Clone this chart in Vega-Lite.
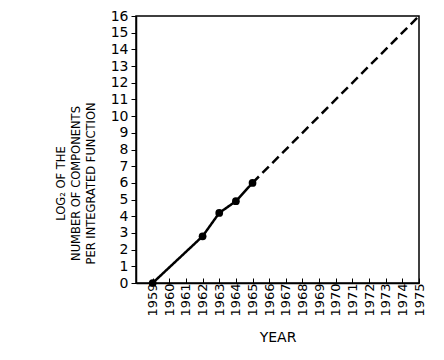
{
  "$schema": "https://vega.github.io/schema/vega-lite/v6.json",
  "autosize": "none",
  "width": 283,
  "height": 267,
  "padding": {"left": 136, "top": 16, "right": 25, "bottom": 77},
  "background": "white",
  "config": {
    "font": "DejaVu Sans",
    "view": {"stroke": "black", "strokeWidth": 1.5},
    "axis": {"grid": false, "domainColor": "black", "domainWidth": 1.5, "tickColor": "black", "labelColor": "black", "titleColor": "black", "titleFontWeight": "normal"}
  },
  "data": {
    "values": [
      {"year": 1959, "value": 0, "series": "measured"},
      {"year": 1962, "value": 2.8, "series": "measured"},
      {"year": 1963, "value": 4.2, "series": "measured"},
      {"year": 1964, "value": 4.9, "series": "measured"},
      {"year": 1965, "value": 6, "series": "measured"},
      {"year": 1965, "value": 6, "series": "projected"},
      {"year": 1975, "value": 16, "series": "projected"}
    ]
  },
  "encoding": {
    "x": {
      "field": "year", "type": "quantitative",
      "scale": {"domain": [1958, 1975], "nice": false, "zero": false},
      "axis": {
        "title": "YEAR", "titleFontSize": 14, "titlePadding": 14,
        "values": [1959,1960,1961,1962,1963,1964,1965,1966,1967,1968,1969,1970,1971,1972,1973,1974,1975],
        "format": "d", "labelAngle": -90, "labelFontSize": 13, "labelPadding": 5,
        "tickSize": -5, "labelFlush": false, "labelOverlap": false
      }
    },
    "y": {
      "field": "value", "type": "quantitative",
      "scale": {"domain": [0, 16], "nice": false},
      "axis": {
        "title": ["LOG₂ OF THE", "NUMBER OF COMPONENTS", "PER INTEGRATED FUNCTION"],
        "titleFontSize": 11.5, "titleLineHeight": 15, "titlePadding": 14, "titleY": 167,
        "values": [0,1,2,3,4,5,6,7,8,9,10,11,12,13,14,15,16],
        "labelFontSize": 14, "labelPadding": 3, "tickSize": 5, "labelFlush": false, "labelOverlap": false
      }
    }
  },
  "layer": [
    {
      "mark": {"type": "line", "color": "black", "strokeWidth": 2.5},
      "encoding": {
        "strokeDash": {"field": "series", "type": "nominal", "scale": {"domain": ["measured", "projected"], "range": [[1, 0], [9, 5]]}, "legend": null}
      }
    },
    {
      "transform": [{"filter": "datum.series === 'measured'"}],
      "mark": {"type": "point", "filled": true, "color": "black", "size": 60, "opacity": 1}
    }
  ]
}
